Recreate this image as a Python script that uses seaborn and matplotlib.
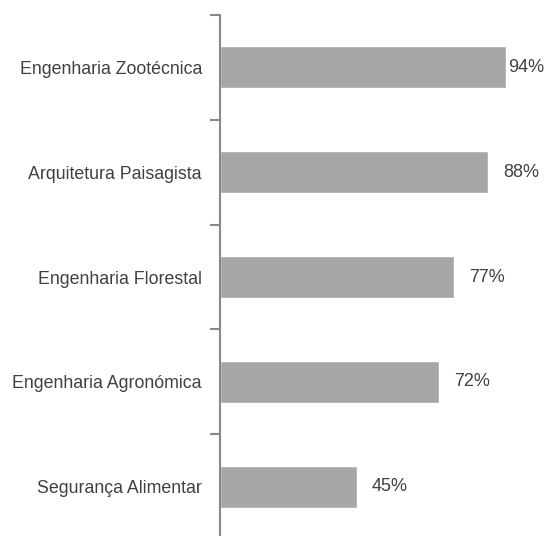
import matplotlib
matplotlib.use("Agg")
import matplotlib.pyplot as plt
import seaborn as sns
import pandas as pd

courses = ["Engenharia Zootécnica", "Arquitetura Paisagista", "Engenharia Florestal",
           "Engenharia Agronómica", "Segurança Alimentar"]
pct = [94, 88, 77, 72, 45]

df = pd.DataFrame({"Curso": courses, "Pct": pct})

sns.set_theme(style="white")
plt.rcParams["font.family"] = ["Liberation Sans Narrow", "Liberation Sans", "DejaVu Sans"]

fig = plt.figure(figsize=(5.44, 5.36), dpi=100)
ax = fig.add_axes([220 / 544, -3 / 536, 304 / 544, 1 - 12 / 536])

sns.barplot(data=df, y="Curso", x="Pct", orient="h", color="#A6A6A6",
            saturation=1, width=0.4, ax=ax)

ax.set_xlim(0, 100)
ax.set_ylim(4.5, -0.5)
for s in ["top", "right", "bottom"]:
    ax.spines[s].set_visible(False)
ax.spines["left"].set_color("#888888")
ax.spines["left"].set_linewidth(1.5)
ax.set_xticks([])
ax.set_xlabel("")
ax.set_ylabel("")

# boundary ticks, labels on category centres
ax.set_yticks([i - 0.5 for i in range(len(courses) + 1)])
ax.set_yticklabels([])
ax.tick_params(axis="y", which="major", left=True, length=7, width=1.5,
               color="#888888", direction="out")
ax.set_yticks(range(len(courses)), minor=True)
ax.set_yticklabels(courses, minor=True, fontsize=12.8, color="#404040")
ax.tick_params(axis="y", which="minor", left=True, length=0, pad=13)

# value labels (the top one sits tight against the plot edge)
for i, v in enumerate(pct):
    off = 2 if v == max(pct) else 11
    ax.annotate(f"{v}%", xy=(v, i), xytext=(off, 0), textcoords="offset points",
                va="center", ha="left", fontsize=13, color="#404040")

fig.savefig("out.png", dpi=100)
